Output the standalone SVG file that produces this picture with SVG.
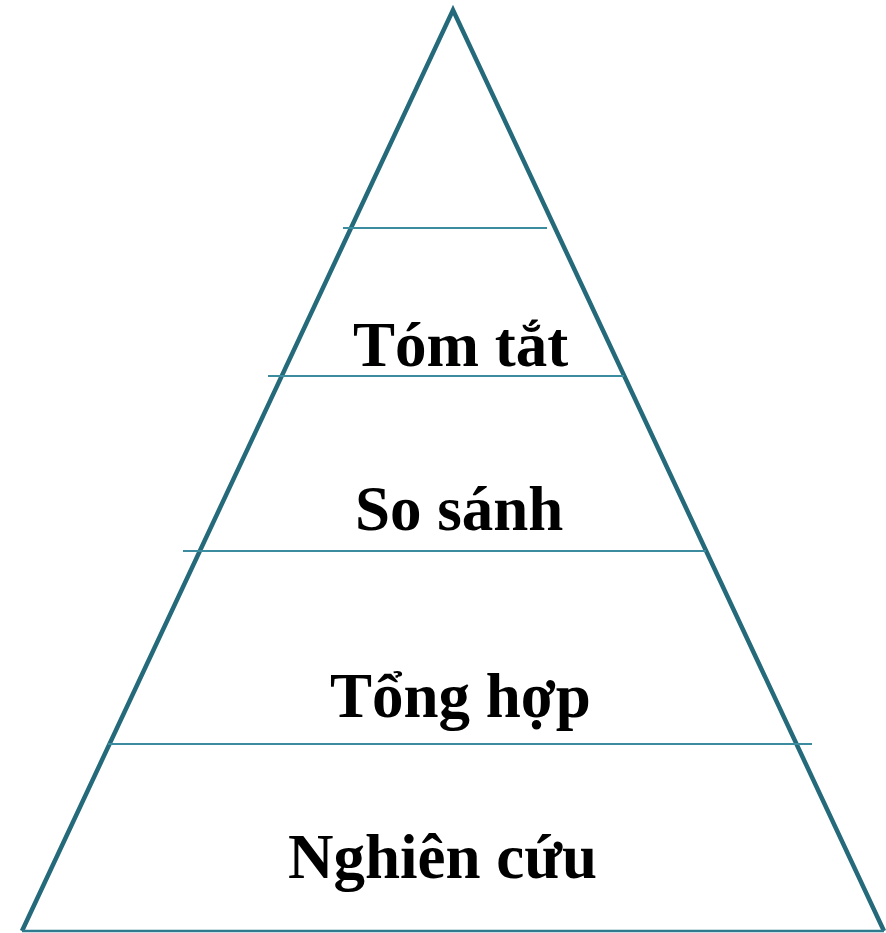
<svg xmlns="http://www.w3.org/2000/svg" width="886" height="933" viewBox="0 0 886 933">
<style>
.tri{fill:none;stroke:#246a7a;stroke-width:4.5;stroke-linejoin:miter}
.base{stroke:#2f7a8c;stroke-width:2.5}
.div{stroke:#3a8c9e;stroke-width:2}
.lbl{font-family:"Liberation Serif","Times New Roman",serif;font-weight:bold;font-size:63px;fill:#000}
</style>
<g id="pyramid">
<polyline class="tri" points="22,931 453,10 884,931"/>
<line class="base" x1="22" y1="931" x2="884" y2="931"/>
</g>
<g id="connectors">
<line class="div" x1="343" y1="228" x2="547" y2="228"/>
<line class="div" x1="268" y1="376" x2="624" y2="376"/>
<line class="div" x1="183" y1="551" x2="706" y2="551"/>
<line class="div" x1="108" y1="744" x2="812" y2="744"/>
</g>
<g id="node-tomtat"><text class="lbl" x="353" y="366">Tóm tắt</text></g>
<g id="node-sosanh"><text class="lbl" x="355" y="530">So sánh</text></g>
<g id="node-tonghop"><text class="lbl" x="330" y="717">Tổng hợp</text></g>
<g id="node-nghiencuu"><text class="lbl" x="288" y="878">Nghiên cứu</text></g>
</svg>
